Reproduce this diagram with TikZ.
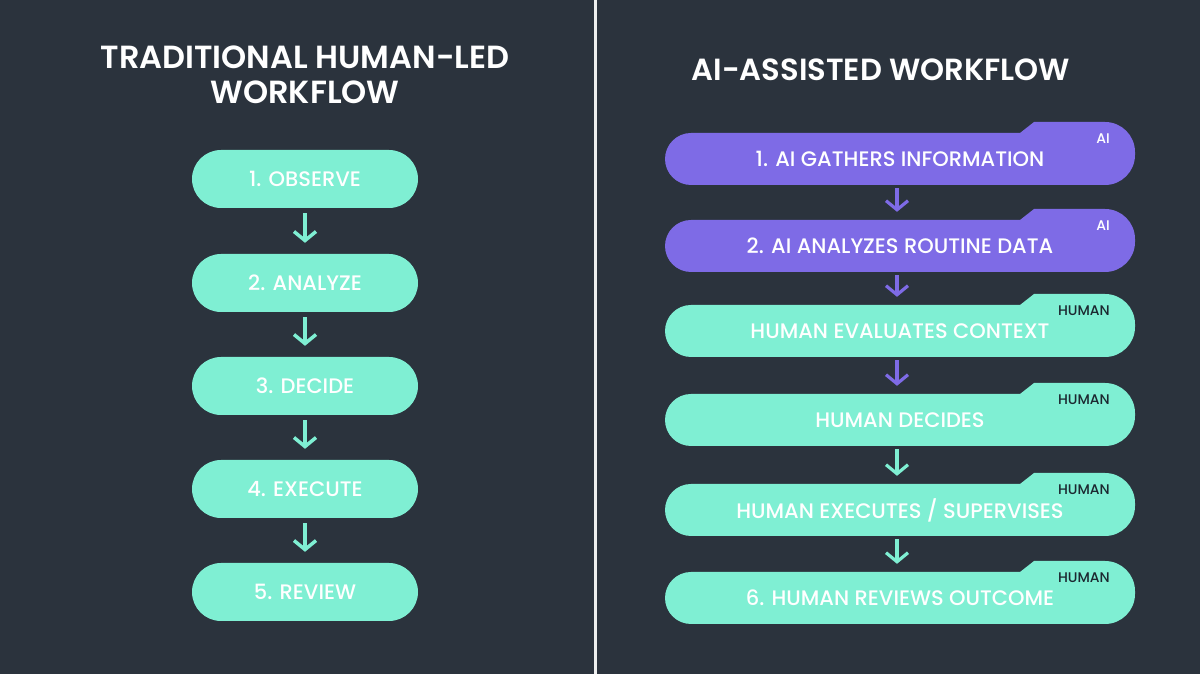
\documentclass[tikz,border=0pt]{standalone}
\usepackage{fontspec}
\setmainfont{Poppins}[UprightFont=* Medium, BoldFont=* SemiBold]
\usetikzlibrary{arrows.meta}
\definecolor{bg}{HTML}{2B333D}
\definecolor{mint}{HTML}{7FEFD3}
\definecolor{violet}{HTML}{7E6BE6}
\definecolor{ink}{HTML}{1C2830}
\tikzset{
  lbox/.style={fill=mint, rounded corners=29pt, minimum width=226pt, minimum height=58pt, text=white, inner sep=0pt, font=\fontsize{21}{23}\selectfont},
  rtext/.style={minimum width=470pt, minimum height=52pt, text=white, inner sep=0pt, font=\fontsize{21}{23}\selectfont},
  tag/.style={inner sep=0pt, font=\fontsize{14}{16}\selectfont},
  ttl/.style={text=white, align=center, font=\bfseries\fontsize{32}{35}\selectfont},
  flow/.style={line width=3.5pt, -{Straight Barb[length=9pt, width=22pt]}},
}
\newcommand\rbox[6]{%
  \fill[#3] (691pt, 674pt-#2pt-26pt) -- (1105pt, 674pt-#2pt-26pt)
    arc[start angle=-90, end angle=0, radius=30pt] -- (1135pt, 674pt-#2pt+7pt)
    arc[start angle=0, end angle=90, radius=30pt] -- (1034pt, 674pt-#2pt+37pt)
    -- (1020pt, 674pt-#2pt+26pt) -- (691pt, 674pt-#2pt+26pt)
    arc[start angle=90, end angle=270, radius=26pt] -- cycle;
  \node[rtext] (#1) at (900pt, 674pt-#2pt) {#4};
  \node[tag, text=#6, anchor=east] (#1t) at (1110pt, 674pt-#2pt+20pt) {#5};
}
\begin{document}
\begin{tikzpicture}[x=1pt, y=1pt]
\fill[bg] (0,0) rectangle (1200,674);
\useasboundingbox (0,0) rectangle (1200,674);
\draw[white!92!bg, line width=3pt] (595,0) -- (595,674);

% left column
\node[ttl] (lt) at (305, 674-75) {TRADITIONAL HUMAN-LED\\WORKFLOW};
\node[lbox] (l1) at (305, 674-179) {1. OBSERVE};
\node[lbox] (l2) at (305, 674-283) {2. ANALYZE};
\node[lbox] (l3) at (305, 674-386) {3. DECIDE};
\node[lbox] (l4) at (305, 674-489) {4. EXECUTE};
\node[lbox] (l5) at (305, 674-592) {5. REVIEW};
\foreach \a/\b in {l1/l2, l2/l3, l3/l4, l4/l5}
  \draw[flow, mint, shorten <=5pt, shorten >=11pt] (\a.south) -- (\b.north);

% right column
\node[ttl, font=\bfseries\fontsize{30.6}{34}\selectfont] (rt) at (881, 674-70) {AI-ASSISTED WORKFLOW};
\rbox{r1}{159}{violet}{1. AI GATHERS INFORMATION}{AI}{white}
\rbox{r2}{246}{violet}{2. AI ANALYZES ROUTINE DATA}{AI}{white}
\rbox{r3}{331}{mint}{HUMAN EVALUATES CONTEXT}{HUMAN}{ink}
\rbox{r4}{420}{mint}{HUMAN DECIDES}{HUMAN}{ink}
\rbox{r5}{510}{mint}{HUMAN EXECUTES / SUPERVISES}{HUMAN}{ink}
\rbox{r6}{598}{mint}{6. HUMAN REVIEWS OUTCOME}{HUMAN}{ink}
\foreach \a/\b/\c in {r1/r2/violet, r2/r3/violet, r3/r4/violet, r4/r5/mint, r5/r6/mint}
  \draw[flow, \c, line width=3.2pt, shorten <=3pt, shorten >=8pt] ([xshift=-3pt]\a.south) -- ([xshift=-3pt]\b.north);
\end{tikzpicture}
\end{document}
